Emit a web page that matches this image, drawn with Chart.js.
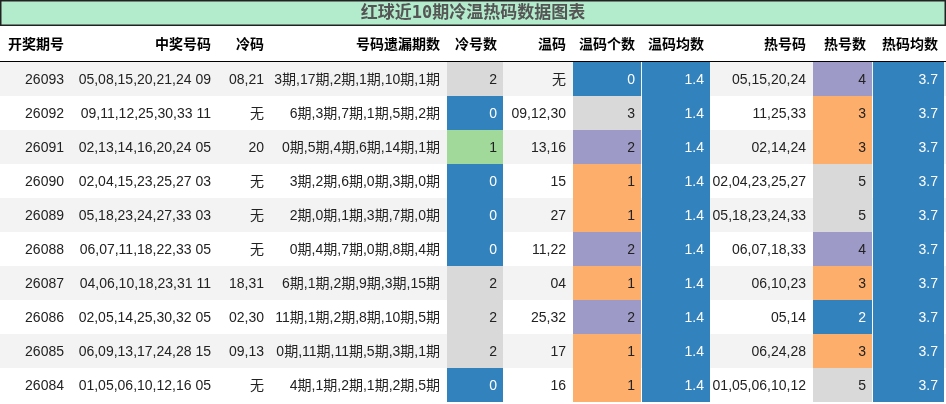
<!DOCTYPE html>
<html><head><meta charset="utf-8">
<script src="https://cdn.jsdelivr.net/npm/chart.js@4"></script>
<style>html,body{margin:0;padding:0;background:#fff}#c{display:block}</style>
</head><body>
<div style="width:946px;height:404px"><canvas id="c"></canvas></div>
<script>
const title = "红球近10期冷温热码数据图表";
const headers = ["开奖期号","中奖号码","冷码","号码遗漏期数","冷号数","温码","温码个数","温码均数","热号码","热号数","热码均数"];
const periods = ["26093","26092","26091","26090","26089","26088","26087","26086","26085","26084"];
const winning = ["05,08,15,20,21,24 09","09,11,12,25,30,33 11","02,13,14,16,20,24 05","02,04,15,23,25,27 03","05,18,23,24,27,33 03","06,07,11,18,22,33 05","04,06,10,18,23,31 11","02,05,14,25,30,32 05","06,09,13,17,24,28 15","01,05,06,10,12,16 05"];
const coldCodes = ["08,21","无","20","无","无","无","18,31","02,30","09,13","无"];
const missing = ["3期,17期,2期,1期,10期,1期","6期,3期,7期,1期,5期,2期","0期,5期,4期,6期,14期,1期","3期,2期,6期,0期,3期,0期","2期,0期,1期,3期,7期,0期","0期,4期,7期,0期,8期,4期","6期,1期,2期,9期,3期,15期","11期,1期,2期,8期,10期,5期","0期,11期,11期,5期,3期,1期","4期,1期,2期,1期,2期,5期"];
const coldCount = [2,0,1,0,0,0,2,2,2,0];
const warmCodes = ["无","09,12,30","13,16","15","27","11,22","04","25,32","17","16"];
const warmCount = [0,3,2,1,1,2,1,2,1,1];
const warmAvg = ["1.4","1.4","1.4","1.4","1.4","1.4","1.4","1.4","1.4","1.4"];
const hotCodes = ["05,15,20,24","11,25,33","02,14,24","02,04,23,25,27","05,18,23,24,33","06,07,18,33","06,10,23","05,14","06,24,28","01,05,06,10,12"];
const hotCount = [4,3,3,5,5,4,3,2,3,5];
const hotAvg = ["3.7","3.7","3.7","3.7","3.7","3.7","3.7","3.7","3.7","3.7"];

const colEdges = [0,70,217,270,446,503,572,641,710,812,872,944];
const BLUE="#3182bd",ORANGE="#fdae6b",GREEN="#a1d99b",PURPLE="#9e9ac8",GRAY="#d9d9d9";
const coldColor = {0:BLUE,1:GREEN,2:GRAY};
const warmColor = {0:BLUE,1:ORANGE,2:PURPLE,3:GRAY};
const hotColor = {2:BLUE,3:ORANGE,4:PURPLE,5:GRAY};

const tablePlugin = {
  id:'table',
  afterDraw(chart){
    const ctx=chart.ctx, xs=chart.scales.x, ys=chart.scales.y;
    const X=v=>xs.getPixelForValue(v), Y=v=>ys.getPixelForValue(v);
    ctx.save();
    // title bar
    ctx.fillStyle="#b3eccc"; ctx.fillRect(X(0),Y(0),X(946)-X(0),Y(26)-Y(0));
    ctx.strokeStyle="#222"; ctx.lineWidth=1.5; ctx.strokeRect(X(0)+0.75,Y(0)+0.75,X(946)-X(0)-1.5,Y(26)-Y(0)-1.5);
    ctx.fillStyle="#555"; ctx.font="bold 17px 'DejaVu Sans Mono','Noto Sans CJK SC'"; ctx.textAlign="center"; ctx.textBaseline="middle";
    ctx.fillText(title,X(473),Y(14));
    // header
    ctx.font="bold 14px 'Liberation Sans','Noto Sans CJK SC'"; ctx.fillStyle="#000"; ctx.textAlign="right";
    headers.forEach((h,c)=>{ ctx.fillText(h,X(colEdges[c+1])-6,Y(45)); });
    ctx.fillStyle="#000"; ctx.fillRect(X(0),Y(61),X(946)-X(0),1.5);
    const rowH=34, top=62;
    periods.forEach((p,i)=>{
      const y0=Y(top+i*rowH), y1=Y(top+(i+1)*rowH), ym=(y0+y1)/2;
      if(i%2===0){ctx.fillStyle="#f3f3f3"; ctx.fillRect(X(0),y0,X(946)-X(0),y1-y0);}
      const cells=[
        [p,null],[winning[i],null],[coldCodes[i],null],[missing[i],null],
        [String(coldCount[i]),coldColor[coldCount[i]]],[warmCodes[i],null],
        [String(warmCount[i]),warmColor[warmCount[i]]],[warmAvg[i],BLUE],
        [hotCodes[i],null],[String(hotCount[i]),hotColor[hotCount[i]]],[hotAvg[i],BLUE]
      ];
      cells.forEach(([t,bg],c)=>{
        const xl=X(colEdges[c]), xr=X(colEdges[c+1]);
        if(bg){ctx.fillStyle=bg; ctx.fillRect(xl+1,y0,xr-xl-1,y1-y0);}
        ctx.fillStyle = bg===BLUE ? "#fff" : "#222";
        ctx.font="14px 'Liberation Sans','Noto Sans CJK SC'";
        ctx.fillText(t,xr-6,ym+1);
      });
    });
    ctx.restore();
  }
};
new Chart(document.getElementById('c'),{
  type:'scatter',
  data:{datasets:[{data:[]}]},
  options:{responsive:true,maintainAspectRatio:false,animation:false,
    layout:{padding:0},
    plugins:{legend:{display:false},tooltip:{enabled:false},title:{display:false}},
    scales:{x:{type:'linear',min:0,max:946,display:false},y:{type:'linear',min:0,max:404,reverse:true,display:false}}},
  plugins:[tablePlugin]
});
</script></body></html>
